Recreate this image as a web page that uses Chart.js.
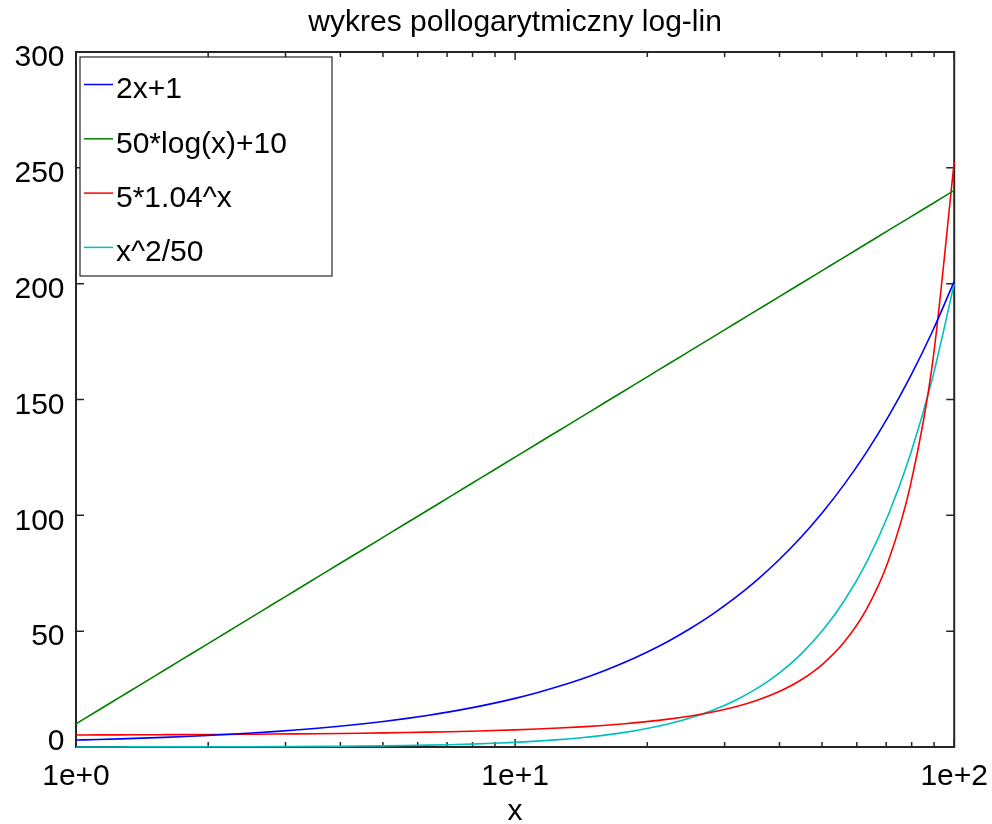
<!DOCTYPE html>
<html>
<head>
<meta charset="utf-8">
<title>wykres pollogarytmiczny log-lin</title>
<script src="https://cdn.jsdelivr.net/npm/chart.js@4/dist/chart.umd.min.js"></script>
<style>
  body { margin: 0; background: #fff; }
  #wrap { width: 992px; height: 824px; }
</style>
</head>
<body>
<div id="wrap"><canvas id="chart"></canvas></div>
<script>
// x samples (log spaced, 1..100)
const xValues = [1, 1.122, 1.259, 1.413, 1.585, 1.778, 1.995, 2.239, 2.512, 2.818,
  3.162, 3.548, 3.981, 4.467, 5.012, 5.623, 6.31, 7.079, 7.943, 8.913,
  10, 11.22, 12.59, 14.13, 15.85, 17.78, 19.95, 22.39, 25.12, 28.18,
  31.62, 35.48, 39.81, 44.67, 50.12, 56.23, 63.1, 70.79, 79.43, 89.13, 100];

const seriesLabels = ['2x+1', '50*log(x)+10', '5*1.04^x', 'x^2/50'];
const seriesColors = ['#0000ff', '#008000', '#ff0000', '#00bfbf'];

const linearValues = [3, 3.24, 3.52, 3.83, 4.17, 4.56, 4.99, 5.48, 6.02, 6.64,
  7.32, 8.1, 8.96, 9.93, 11.02, 12.25, 13.62, 15.16, 16.89, 18.83,
  21, 23.44, 26.18, 29.25, 32.7, 36.57, 40.91, 45.77, 51.24, 57.37,
  64.25, 71.96, 80.62, 90.34, 101.24, 113.47, 127.19, 142.59, 159.87, 179.25, 201];

const logValues = [10, 15.76, 21.51, 27.27, 33.03, 38.78, 44.54, 50.3, 56.05, 61.81,
  67.56, 73.32, 79.08, 84.83, 90.59, 96.35, 102.1, 107.86, 113.62, 119.37,
  125.13, 130.89, 136.64, 142.4, 148.16, 153.91, 159.67, 165.42, 171.18, 176.94,
  182.69, 188.45, 194.21, 199.96, 205.72, 211.48, 217.23, 222.99, 228.75, 234.5, 240.26];

const expValues = [5.2, 5.23, 5.25, 5.29, 5.32, 5.36, 5.41, 5.46, 5.52, 5.58,
  5.66, 5.75, 5.85, 5.96, 6.09, 6.23, 6.4, 6.6, 6.83, 7.09,
  7.4, 7.76, 8.19, 8.7, 9.31, 10.04, 10.94, 12.03, 13.39, 15.1,
  17.28, 20.11, 23.83, 28.83, 35.7, 45.38, 59.4, 80.33, 112.73, 164.84, 252.52];

const squareValues = [0.02, 0.03, 0.03, 0.04, 0.05, 0.06, 0.08, 0.1, 0.13, 0.16,
  0.2, 0.25, 0.32, 0.4, 0.5, 0.63, 0.8, 1, 1.26, 1.59,
  2, 2.52, 3.17, 3.99, 5.02, 6.32, 7.96, 10.02, 12.62, 15.89,
  20, 25.18, 31.7, 39.9, 50.24, 63.25, 79.62, 100.24, 126.19, 158.87, 200];

// tick positions
const xMajorTicks = [1, 10, 100];
const xMinorTicks = [2, 3, 4, 5, 6, 7, 8, 9, 20, 30, 40, 50, 60, 70, 80, 90];
const yTicks = [0, 50, 100, 150, 200, 250, 300];

const allSeries = [linearValues, logValues, expValues, squareValues];

Chart.defaults.font.family = "'Liberation Sans', Arial, sans-serif";
Chart.defaults.color = '#000';

// box round the plot with inward ticks
const frameTicks = {
    id: 'frameTicks',
    beforeDraw(chart) {
        // y labels sit a little below their ticks, the 0 a little above
        chart.scales.y.getLabelItems().forEach(item => {
            item.options.translation[1] += item.label === '0' ? -5 : 6;
        });
    },
    beforeDatasetsDraw(chart) {
        const { ctx, chartArea: a, scales: { x, y } } = chart;
        ctx.save();
        ctx.strokeStyle = '#262626';
        ctx.lineWidth = 1.5;
        ctx.beginPath();
        xMajorTicks.forEach(v => {
            const px = x.getPixelForValue(v);
            ctx.moveTo(px, a.bottom); ctx.lineTo(px, a.bottom - 8);
            ctx.moveTo(px, a.top); ctx.lineTo(px, a.top + 8);
        });
        xMinorTicks.forEach(v => {
            const px = x.getPixelForValue(v);
            ctx.moveTo(px, a.bottom); ctx.lineTo(px, a.bottom - 5);
            ctx.moveTo(px, a.top); ctx.lineTo(px, a.top + 5);
        });
        yTicks.forEach(v => {
            const py = y.getPixelForValue(v);
            ctx.moveTo(a.left, py); ctx.lineTo(a.left + 8, py);
            ctx.moveTo(a.right, py); ctx.lineTo(a.right - 8, py);
        });
        ctx.stroke();
        ctx.lineWidth = 2;
        ctx.strokeRect(a.left, a.top, a.right - a.left, a.bottom - a.top);
        ctx.restore();
    }
};

// legend box in the top left corner
const boxLegend = {
    id: 'boxLegend',
    afterDraw(chart) {
        const { ctx, chartArea: a } = chart;
        const left = a.left + 4, top = a.top + 5;
        ctx.save();
        ctx.fillStyle = '#fff';
        ctx.fillRect(left, top, 252, 219);
        ctx.strokeStyle = '#262626';
        ctx.lineWidth = 1.2;
        ctx.strokeRect(left, top, 252, 219);
        ctx.font = "30px 'Liberation Sans', Arial, sans-serif";
        ctx.textBaseline = 'middle';
        ctx.textAlign = 'left';
        chart.data.datasets.forEach((ds, i) => {
            const ty = top + 33 + i * 54.3;
            ctx.strokeStyle = ds.borderColor;
            ctx.lineWidth = 1.5;
            ctx.beginPath();
            ctx.moveTo(left + 4, ty - 5.5);
            ctx.lineTo(left + 33, ty - 5.5);
            ctx.stroke();
            ctx.fillStyle = '#000';
            ctx.fillText(ds.label, left + 36, ty);
        });
        ctx.restore();
    }
};

const ctx = document.getElementById('chart');
new Chart(ctx, {
    type: 'line',
    data: {
        datasets: allSeries.map((vals, i) => ({
            label: seriesLabels[i],
            data: xValues.map((xv, j) => ({ x: xv, y: vals[j] })),
            borderColor: seriesColors[i],
            borderWidth: 1.6,
            pointRadius: 0,
            fill: false,
            cubicInterpolationMode: 'monotone',
            clip: 3
        }))
    },
    options: {
        responsive: true,
        maintainAspectRatio: false,
        animation: false,
        layout: { padding: { left: 0, right: 31, top: 0, bottom: 0 } },
        plugins: {
            legend: { display: false },
            tooltip: { enabled: false },
            title: {
                display: true,
                fullSize: false,
                text: 'wykres pollogarytmiczny log-lin',
                color: '#000',
                font: { size: 30, weight: 'normal' },
                padding: { top: 4.6, bottom: 11.4 }
            }
        },
        scales: {
            x: {
                type: 'logarithmic',
                min: 1,
                max: 100,
                grid: { display: false },
                border: { display: false },
                afterBuildTicks: scale => {
                    scale.ticks = xMajorTicks.map(v => ({ value: v, major: true }));
                },
                afterFit: scale => { scale.height = 77; },
                ticks: {
                    autoSkip: false,
                    maxRotation: 0,
                    padding: 4,
                    font: { size: 30 },
                    callback: v => Number(v).toExponential(0)
                },
                title: {
                    display: true,
                    text: 'x',
                    font: { size: 30, lineHeight: 0.8 },
                    padding: { top: 0, bottom: 0.4 }
                }
            },
            y: {
                min: 0,
                max: 300,
                grid: { display: false },
                border: { display: false },
                afterFit: scale => { scale.width = 76; },
                ticks: {
                    stepSize: 50,
                    padding: 3.5,
                    font: { size: 30 }
                }
            }
        }
    },
    plugins: [frameTicks, boxLegend]
});
</script>
</body>
</html>
